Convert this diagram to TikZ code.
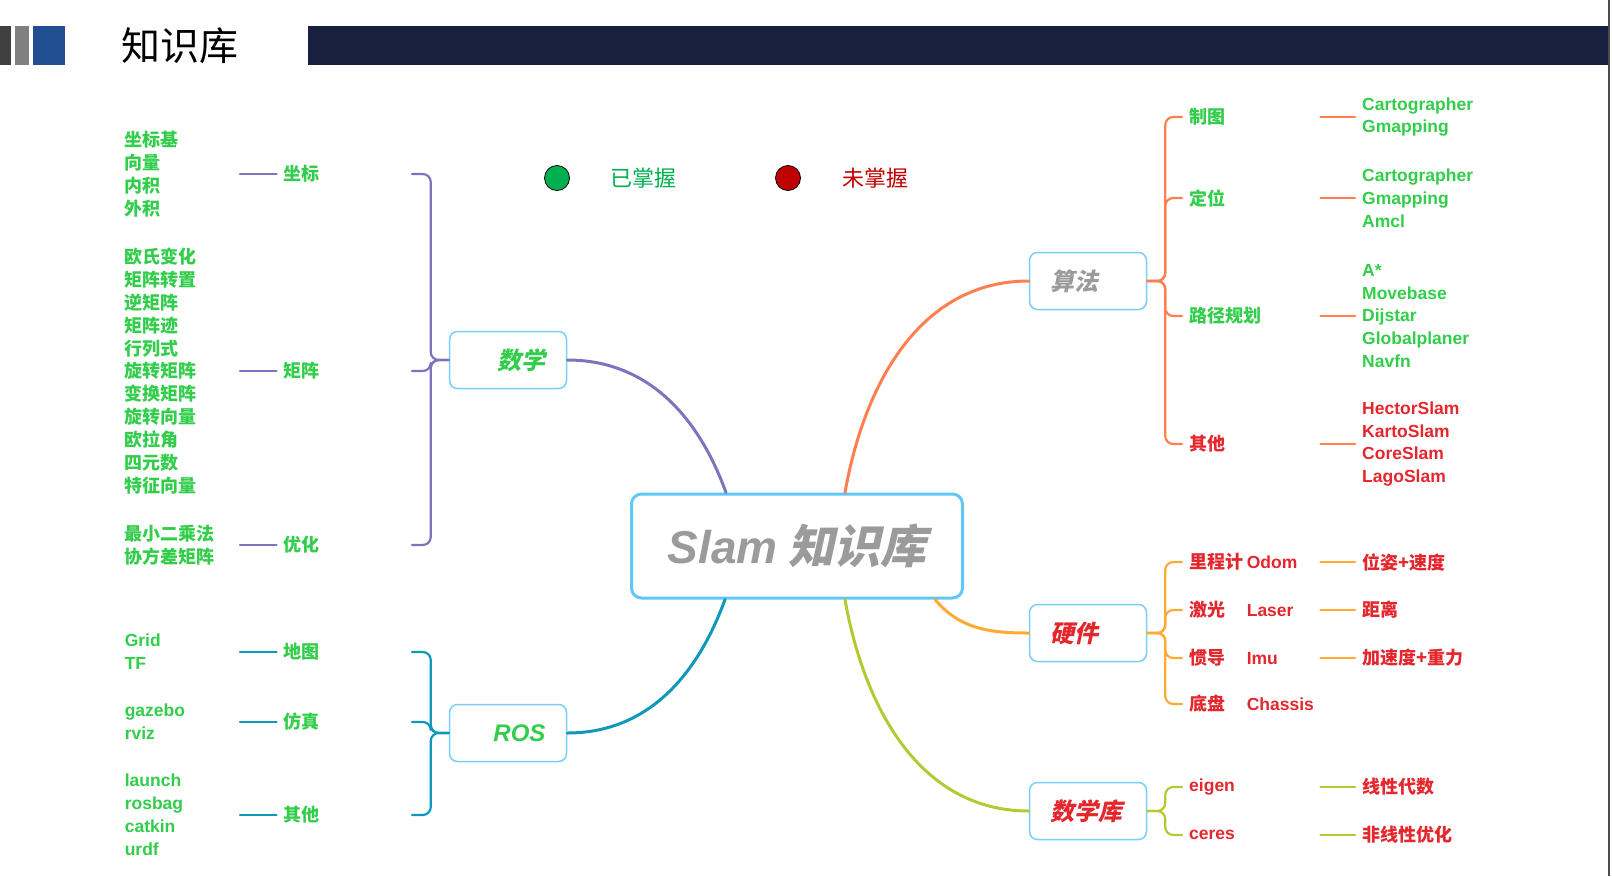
\documentclass[tikz,border=0pt]{standalone}
\usepackage{fontspec}
\setmainfont{Noto Sans CJK SC}
\setsansfont{Liberation Sans}
\newfontfamily\cjkslant{Noto Sans CJK SC}[FakeSlant=0.22]

\definecolor{navy}{RGB}{24,32,64}
\definecolor{hdgrey}{RGB}{64,64,64}
\definecolor{hdlight}{RGB}{128,128,128}
\definecolor{hdblue}{RGB}{33,78,145}
\definecolor{okgreen}{RGB}{0,176,80}
\definecolor{nogred}{RGB}{192,0,0}
\definecolor{txtgreen}{RGB}{50,205,75}
\definecolor{txtred}{RGB}{228,38,45}
\definecolor{txtgrey}{RGB}{155,155,155}
\definecolor{boxblue}{RGB}{95,200,245}
\definecolor{mathc}{RGB}{123,117,190}
\definecolor{rosc}{RGB}{16,152,188}
\definecolor{algc}{RGB}{255,127,80}
\definecolor{hwc}{RGB}{255,170,50}
\definecolor{libc}{RGB}{181,201,50}

\tikzset{
	topic/.style={draw=boxblue!85, line width=1.5pt, rounded corners=8pt, minimum height=57pt, inner xsep=21pt, text width=75pt, font=\fontsize{24}{28}\selectfont\cjkslant\bfseries},
	lab/.style={inner xsep=7pt, inner ysep=1pt, font=\fontsize{18}{22.9}\selectfont\bfseries},
	latin/.style={font=\fontsize{17.5}{22.9}\selectfont\sffamily\bfseries},
	leftlab/.style={lab, anchor=east, text width=121pt, align=left},
	rightlab/.style={lab, anchor=west, text width=124pt, align=left},
	leftleaf/.style={lab, anchor=east, text width=108pt, align=left},
	rightleaf/.style={lab, anchor=west, text width=130pt, align=left},
	branch/.style={line width=2.2pt, rounded corners=8pt},
	trunk/.style={line width=3pt},
	dot/.style={circle, draw=black, line width=0.8pt, minimum size=25pt, inner sep=0pt}
}
\newcommand{\hwlab}[2]{\makebox[57.6pt][l]{#1}{\sffamily\fontsize{17.5}{22.9}\selectfont #2}}

\begin{document}
\begin{tikzpicture}[x=1pt, y=-1pt, line cap=round, line join=round]
	\useasboundingbox (0,0) rectangle (1612,876);
	\fill[hdgrey] (0,26) rectangle (11,65);
	\fill[hdlight] (15,26) rectangle (29,65);
	\fill[hdblue] (33,26) rectangle (65,65);
	\fill[navy] (308,26) rectangle (1609,65);
	\fill[black!70] (1608,0) rectangle (1610,876);
	\node[anchor=west, inner sep=0pt, font=\fontsize{39}{44}\selectfont] (title) at (121,46) {知识库};

	\node[dot, fill=okgreen] (ok) at (557,178) {};
	\node[text=okgreen, font=\fontsize{22}{26}\selectfont] (oktext) at (643,178) {已掌握};
	\node[dot, fill=nogred] (no) at (788,178) {};
	\node[text=nogred, font=\fontsize{22}{26}\selectfont] (notext) at (875,178) {未掌握};

	\node[draw=boxblue, line width=3pt, rounded corners=10pt, minimum width=331pt, minimum height=104pt, text=txtgrey, font=\fontsize{46}{50}\selectfont\bfseries] (slam) at (797,546) {{\sffamily\itshape Slam} {\cjkslant 知识库}};

	\node[topic, align=right, text=txtgreen] (math) at (508,360) {数学};
	\node[topic, align=right, text=txtgreen] (ros) at (508,733) {{\sffamily\itshape ROS}};
	\node[topic, align=left, text=txtgrey] (alg) at (1088,281) {算法};
	\node[topic, align=left, text=txtred] (hw) at (1088,633) {硬件};
	\node[topic, align=left, text=txtred] (lib) at (1088,811) {数学库};

	\draw[trunk, mathc] (math.east) to[out=0, in=110] ([xshift=-71pt]slam.north);
	\draw[trunk, rosc] (ros.east) to[out=0, in=-110] ([xshift=-72pt]slam.south);
	\draw[trunk, algc] ([xshift=48pt]slam.north) to[out=80, in=180] (alg.west);
	\draw[trunk, hwc] ([xshift=138pt]slam.south) to[out=-50, in=180] (hw.west);
	\draw[trunk, libc] ([xshift=48pt]slam.south) to[out=-80, in=180] (lib.west);

	\node[leftlab, text=txtgreen] (zb) at (412,174) {坐标};
	\node[leftlab, text=txtgreen] (jz) at (412,371) {矩阵};
	\node[leftlab, text=txtgreen] (yh) at (412,545) {优化};
	\node[leftleaf, text=txtgreen] (zb-l) at (240,174) {坐标基\\向量\\内积\\外积};
	\node[leftleaf, text=txtgreen] (jz-l) at (240,371) {欧氏变化\\矩阵转置\\逆矩阵\\矩阵迹\\行列式\\旋转矩阵\\变换矩阵\\旋转向量\\欧拉角\\四元数\\特征向量};
	\node[leftleaf, text=txtgreen] (yh-l) at (240,545) {最小二乘法\\协方差矩阵};
	\foreach \n in {zb,jz,yh} {
		\draw[branch, mathc] (math.west) -- ++(-18,0) |- (\n.east);
		\draw[branch, mathc] (\n.west) -- (\n-l.east);
	}

	\node[leftlab, text=txtgreen] (dt) at (412,652) {地图};
	\node[leftlab, text=txtgreen] (fz) at (412,722) {仿真};
	\node[leftlab, text=txtgreen] (qt) at (412,815) {其他};
	\node[leftleaf, latin, text=txtgreen] (dt-l) at (240,652) {Grid\\TF};
	\node[leftleaf, latin, text=txtgreen] (fz-l) at (240,722) {gazebo\\rviz};
	\node[leftleaf, latin, text=txtgreen] (qt-l) at (240,815) {launch\\rosbag\\catkin\\urdf};
	\foreach \n in {dt,fz,qt} {
		\draw[branch, rosc] (ros.west) -- ++(-18,0) |- (\n.east);
		\draw[branch, rosc] (\n.west) -- (\n-l.east);
	}

	\node[rightlab, text=txtgreen] (zt) at (1182,117) {制图};
	\node[rightlab, text=txtgreen] (dw) at (1182,198) {定位};
	\node[rightlab, text=txtgreen] (lj) at (1182,316) {路径规划};
	\node[rightlab, text=txtred] (qs) at (1182,444) {其他};
	\node[rightleaf, latin, text=txtgreen] (zt-l) at (1355,117) {Cartographer\\Gmapping};
	\node[rightleaf, latin, text=txtgreen] (dw-l) at (1355,198) {Cartographer\\Gmapping\\Amcl};
	\node[rightleaf, latin, text=txtgreen] (lj-l) at (1355,316) {A*\\Movebase\\Dijstar\\Globalplaner\\Navfn};
	\node[rightleaf, latin, text=txtred] (qs-l) at (1355,444) {HectorSlam\\KartoSlam\\CoreSlam\\LagoSlam};
	\foreach \n in {zt,dw,lj,qs} {
		\draw[branch, algc] (alg.east) -- ++(18,0) |- (\n.west);
		\draw[branch, algc] (\n.east) -- (\n-l.west);
	}

	\node[rightlab, text=txtred] (lc) at (1182,562) {\hwlab{里程计}{Odom}};
	\node[rightlab, text=txtred] (jg) at (1182,610) {\hwlab{激光}{Laser}};
	\node[rightlab, text=txtred] (gd) at (1182,658) {\hwlab{惯导}{Imu}};
	\node[rightlab, text=txtred] (dp) at (1182,704) {\hwlab{底盘}{Chassis}};
	\node[rightleaf, text=txtred] (lc-l) at (1355,562) {位姿+速度};
	\node[rightleaf, text=txtred] (jg-l) at (1355,610) {距离};
	\node[rightleaf, text=txtred] (gd-l) at (1355,658) {加速度+重力};
	\foreach \n in {lc,jg,gd,dp} \draw[branch, hwc] (hw.east) -- ++(18,0) |- (\n.west);
	\foreach \n in {lc,jg,gd} \draw[branch, hwc] (\n.east) -- (\n-l.west);

	\node[rightlab, latin, text=txtred] (eg) at (1182,787) {eigen};
	\node[rightlab, latin, text=txtred] (cr) at (1182,835) {ceres};
	\node[rightleaf, text=txtred] (eg-l) at (1355,787) {线性代数};
	\node[rightleaf, text=txtred] (cr-l) at (1355,835) {非线性优化};
	\foreach \n in {eg,cr} {
		\draw[branch, libc] (lib.east) -- ++(18,0) |- (\n.west);
		\draw[branch, libc] (\n.east) -- (\n-l.west);
	}
\end{tikzpicture}
\end{document}
